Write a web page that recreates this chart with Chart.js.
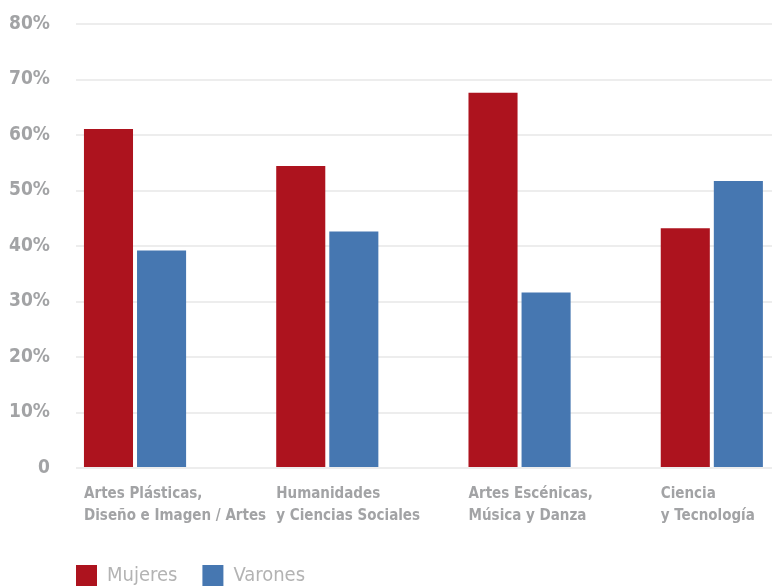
<!DOCTYPE html>
<html>
<head>
<meta charset="utf-8">
<script src="https://cdn.jsdelivr.net/npm/chart.js@4/dist/chart.umd.min.js"></script>
<style>
  html, body { margin: 0; padding: 0; background: #fff; overflow: hidden; }
  #wrap { position: relative; width: 772px; height: 596px; }
</style>
</head>
<body>
<div id="wrap"><canvas id="areas_chart"></canvas></div>
<script>
const categories = [
  ['Artes Plásticas,', 'Diseño e Imagen / Artes'],
  ['Humanidades', 'y Ciencias Sociales'],
  ['Artes Escénicas,', 'Música y Danza'],
  ['Ciencia', 'y Tecnología']
];
const mujeres = [61.1, 54.4, 67.6, 43.2];   // % mujeres
const varones = [39.2, 42.6, 31.6, 51.7];   // % varones
const yTicks = [0, 10, 20, 30, 40, 50, 60, 70, 80];

const fontFamily = '"DejaVu Sans Condensed", "Liberation Sans Narrow", sans-serif';
const grey = '#a2a3a5';

// empuja la leyenda para que empiece en el borde del area del grafico
const legendAlign = {
  id: 'legendAlign',
  afterLayout(chart) {
    const lg = chart.legend;
    lg.left = chart.chartArea.left - lg.options.labels.padding;
  }
};

const ctx = document.getElementById('areas_chart');
const chart = new Chart(ctx, {
  type: 'bar',
  data: {
    datasets: [{
      label: 'Mujeres',
      data: mujeres.map((v, i) => ({ x: i, y: v })),
      backgroundColor: '#ad131e'
    }, {
      label: 'Varones',
      data: varones.map((v, i) => ({ x: i, y: v })),
      backgroundColor: '#4677b1'
    }]
  },
  options: {
    responsive: true,
    maintainAspectRatio: false,
    animation: false,
    categoryPercentage: 106 / 192,
    barPercentage: 49 / 53,
    layout: { padding: { top: 24, right: 0, left: 0, bottom: 0 } },
    plugins: {
      tooltip: { enabled: false },
      legend: {
        position: 'bottom',
        align: 'start',
        labels: {
          boxWidth: 21,
          boxHeight: 21,
          padding: 25,
          color: '#b3b3b3',
          font: { family: fontFamily, size: 20 }
        }
      }
    },
    scales: {
      x: {
        type: 'linear',
        offset: false,
        min: -0.307,
        max: 3.313,
        afterBuildTicks: s => { s.ticks = categories.map((c, i) => ({ value: i })); },
        afterFit: s => { s.height = 72; s.paddingLeft = 0; s.paddingRight = 0; },
        grid: { display: false },
        border: { display: false },
        ticks: {
          callback: v => categories[v],
          align: 'start',
          labelOffset: -51,
          padding: 7,
          maxRotation: 0,
          autoSkip: false,
          color: grey,
          font: { family: fontFamily, size: 15, weight: 'bold', lineHeight: '22px' }
        }
      },
      y: {
        min: 0,
        max: 80,
        afterBuildTicks: s => { s.ticks = yTicks.map(v => ({ value: v })); },
        afterFit: s => { s.width = 76; s.paddingTop = 0; s.paddingBottom = 0; },
        grid: {
          color: '#ededed',
          lineWidth: 2,
          drawTicks: false
        },
        border: { display: false },
        ticks: {
          callback: v => v === 0 ? '0' : v + '%',
          padding: 26,
          color: grey,
          font: { family: fontFamily, size: 19, weight: 'bold' }
        }
      }
    }
  },
  plugins: [legendAlign]
});
</script>
</body>
</html>
